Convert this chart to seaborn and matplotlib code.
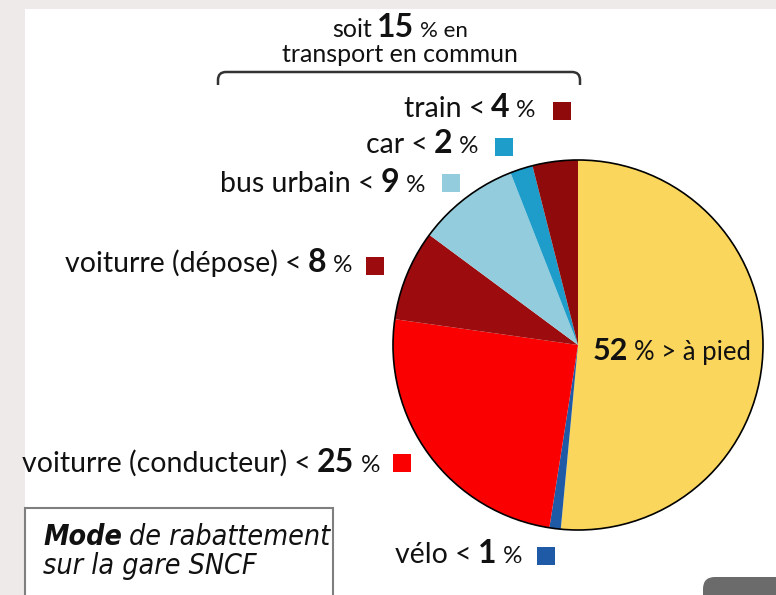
import matplotlib
matplotlib.use("Agg")
import matplotlib.pyplot as plt
import seaborn as sns
from matplotlib.patches import Rectangle, Circle, FancyBboxPatch, PathPatch
from matplotlib.path import Path

# data (share of each mode, in %)
modes = ["à pied", "vélo", "voiturre (conducteur)", "voiturre (dépose)",
         "bus urbain", "car", "train"]
shares = [52, 1, 25, 8, 9, 2, 4]
colors = ["#fad65c", "#1f5aa6", "#fb0000", "#9c0c0e", "#93cddd", "#1e9dca", "#8f0b0b"]
transport_commun = 15

sns.set_theme(style="white")
FONT = ["Lato", "DejaVu Sans"]
plt.rcParams["font.family"] = FONT

W, H = 776, 595
fig = plt.figure(figsize=(7.76, 5.95), dpi=100)
fig.patch.set_facecolor("#eeeaea")
ax = fig.add_axes([0, 0, 1, 1])

# white panel over the grey backdrop
ax.add_patch(Rectangle((25, 0), W - 25, H - 9, fc="white", ec="none", zorder=0))

cx, cy, r = 578, H - 345, 185
ax.pie(shares, colors=colors, startangle=90, counterclock=False,
       center=(cx, cy), radius=r, wedgeprops=dict(linewidth=0))
ax.add_patch(Circle((cx, cy), r, fill=False, ec="black", lw=1.2, zorder=3))

ax.set_xlim(0, W)
ax.set_ylim(0, H)
ax.set_aspect("auto")
ax.axis("off")

renderer = fig.canvas.get_renderer()


def rich(x, yb, parts, align="right", family=FONT, stretch="normal"):
    items = []
    for txt, size, weight, style, gap in parts:
        t = ax.text(0, H - yb, txt, fontsize=size, fontweight=weight, fontstyle=style,
                    fontstretch=stretch, va="baseline", ha="left", family=family,
                    color="#111111", zorder=5)
        items.append((t, t.get_window_extent(renderer=renderer).width, gap))
    total = sum(w + g for _, w, g in items) - items[-1][2]
    if align == "right":
        start = x - total
    elif align == "center":
        start = x - total / 2
    else:
        start = x
    for t, w, g in items:
        t.set_x(start)
        start += w + g


# side labels: right end of text, baseline, square centre x, square centre y
label_pos = {
    "train": (535, 117, 562, 111),
    "car": (478, 153, 504, 147),
    "bus urbain": (425, 192, 451, 183),
    "voiturre (dépose)": (352, 272, 375, 266),
    "voiturre (conducteur)": (380, 472, 402, 463),
    "vélo": (522, 563, 546, 556),
}
sq = 18
for name, (xe, yb, sx, sy) in label_pos.items():
    i = modes.index(name)
    rich(xe, yb, [(name + " <", 20.5, "normal", "normal", 6),
                  (str(shares[i]), 23, "bold", "normal", 6),
                  ("%", 17.5, "normal", "normal", 0)])
    ax.add_patch(Rectangle((sx - sq / 2, H - sy - sq / 2), sq, sq,
                           fc=colors[i], ec="none", zorder=4))

# label inside the big slice
rich(593, 360, [(str(shares[0]), 22, "bold", "normal", 6),
                ("% > " + modes[0], 18.5, "normal", "normal", 0)], align="left")

# public transport note and brace
rich(400, 37, [("soit", 18, "normal", "normal", 5),
               (str(transport_commun), 23, "bold", "normal", 5),
               ("% en", 16, "normal", "normal", 0)], align="center")
rich(400, 62, [("transport en commun", 18, "normal", "normal", 0)], align="center")

x0, x1, yt, yd, rc = 218, 580, H - 72, H - 85, 8
verts = [(x0, yd), (x0, yt - rc), (x0, yt), (x0 + rc, yt), (x1 - rc, yt),
         (x1, yt), (x1, yt - rc), (x1, yd)]
codes = [Path.MOVETO, Path.LINETO, Path.CURVE3, Path.CURVE3, Path.LINETO,
         Path.CURVE3, Path.CURVE3, Path.LINETO]
ax.add_patch(PathPatch(Path(verts, codes), fill=False, ec="#333333", lw=1.8, zorder=4))

# title box, bottom left
ax.add_patch(Rectangle((25, -10), 308, H - 508 + 10, fc="white", ec="#7f7f7f",
                       lw=1.5, zorder=4))
BOX = ["DejaVu Sans"]
rich(43, 545, [("Mode", 20.5, "bold", "italic", 7),
               ("de rabattement", 20.5, "normal", "italic", 0)],
     align="left", family=BOX, stretch="condensed")
rich(43, 574, [("sur la gare SNCF", 20.5, "normal", "italic", 0)],
     align="left", family=BOX, stretch="condensed")

# grey tab bottom right
ax.add_patch(FancyBboxPatch((703, -20), 90, 38, boxstyle="round,pad=0,rounding_size=12",
                            fc="#6b6b6b", ec="none", zorder=4))

fig.savefig("out.png", dpi=100, facecolor=fig.get_facecolor())
